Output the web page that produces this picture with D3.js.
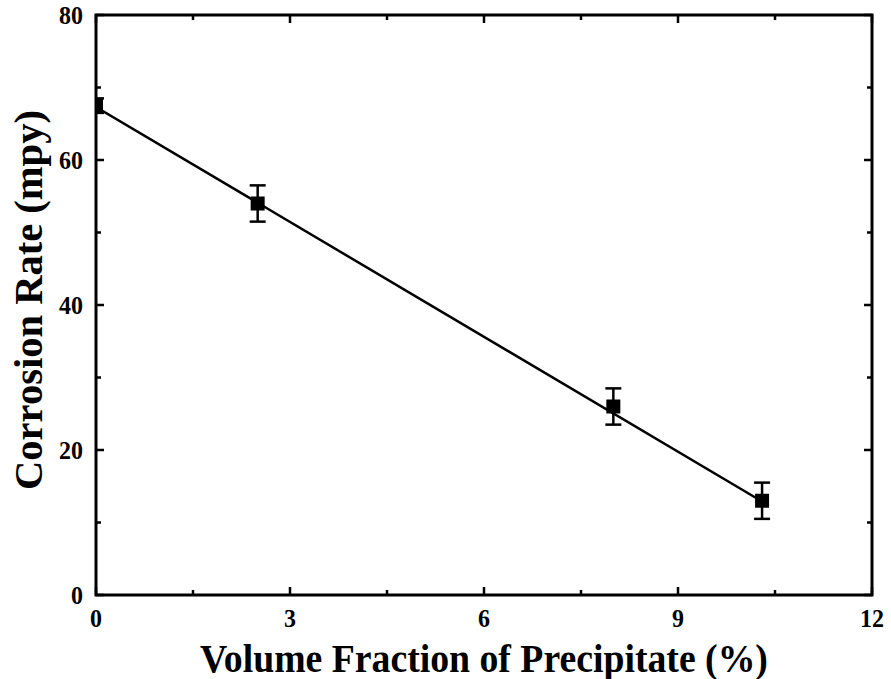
<!DOCTYPE html>
<html><head><meta charset="utf-8">
<script src="https://cdn.jsdelivr.net/npm/d3@7"></script>
<style>body{margin:0;background:#fff}svg{display:block}text{font-family:"Liberation Serif","Times New Roman",serif;font-weight:bold;fill:#000}</style>
</head><body><svg id="c" width="891" height="679"></svg>
<script>
const xVals=[0,2.5,8,10.3];
const yVals=[67.5,54,26,13];
const yErr=[1,2.5,2.5,2.5];
const fitX=[0,10.3];
const fitY=[67.3,12.9];
const xTicks=[0,3,6,9,12];
const yTicks=[0,20,40,60,80];
const xMinor=[1.5,4.5,7.5,10.5];
const yMinor=[10,30,50,70];
const xTitle="Volume Fraction of Precipitate (%)";
const yTitle="Corrosion Rate (mpy)";

const svg=d3.select("#c");
const L=96,R=872,T=15,B=595;
const x=d3.scaleLinear().domain([0,12]).range([L,R]);
const y=d3.scaleLinear().domain([0,80]).range([B,T]);
svg.append("defs").append("clipPath").attr("id","pc").append("rect").attr("x",L).attr("y",T).attr("width",R-L).attr("height",B-T);
const g=svg.append("g");
function ticks(vals,len,orient){
  vals.forEach(v=>{
    if(orient==="x"){
      g.append("line").attr("x1",x(v)).attr("x2",x(v)).attr("y1",B).attr("y2",B-len).attr("stroke","#000").attr("stroke-width",2.5);
      g.append("line").attr("x1",x(v)).attr("x2",x(v)).attr("y1",T).attr("y2",T+len).attr("stroke","#000").attr("stroke-width",2.5);
    } else {
      g.append("line").attr("y1",y(v)).attr("y2",y(v)).attr("x1",L).attr("x2",L+len).attr("stroke","#000").attr("stroke-width",2.5);
      g.append("line").attr("y1",y(v)).attr("y2",y(v)).attr("x1",R).attr("x2",R-len).attr("stroke","#000").attr("stroke-width",2.5);
    }
  });
}
ticks(xTicks,8,"x");ticks(xMinor,5,"x");
ticks(yTicks,8,"y");ticks(yMinor,5,"y");
// tick labels
xTicks.forEach(v=>g.append("text").attr("transform",`translate(${x(v)},${B+32}) scale(1,1.08)`).attr("text-anchor","middle").attr("font-size",24).text(v));
yTicks.forEach(v=>g.append("text").attr("transform",`translate(${L-13},${y(v)+8.5}) scale(1,1.08)`).attr("text-anchor","end").attr("font-size",24).text(v));
// titles
const xt=g.append("text").attr("text-anchor","middle").attr("font-size",40).text(xTitle);
const wx=xt.node().getComputedTextLength();
xt.attr("transform",`translate(484,672) scale(${568/wx},1.0)`);
const yt=g.append("text").attr("text-anchor","middle").attr("font-size",40).text(yTitle);
const wy=yt.node().getComputedTextLength();
yt.attr("transform",`translate(42,300) rotate(-90) scale(${380/wy},1)`);
// data layer clipped to plot area
const d=g.append("g").attr("clip-path","url(#pc)");
d.append("line").attr("x1",x(fitX[0])).attr("y1",y(fitY[0])).attr("x2",x(fitX[1])).attr("y2",y(fitY[1])).attr("stroke","#000").attr("stroke-width",2.5);
const pts=xVals.map((v,i)=>({x:v,y:yVals[i],e:yErr[i]}));
pts.forEach(p=>{
  const cx=x(p.x);
  d.append("line").attr("x1",cx).attr("x2",cx).attr("y1",y(p.y+p.e)).attr("y2",y(p.y-p.e)).attr("stroke","#000").attr("stroke-width",2.5);
  [p.y+p.e,p.y-p.e].forEach(v=>d.append("line").attr("x1",cx-8).attr("x2",cx+8).attr("y1",y(v)).attr("y2",y(v)).attr("stroke","#000").attr("stroke-width",2.5));
  d.append("rect").attr("x",cx-7).attr("y",y(p.y)-7).attr("width",14).attr("height",14).attr("fill","#000");
});
g.append("rect").attr("x",L).attr("y",T).attr("width",R-L).attr("height",B-T).attr("fill","none").attr("stroke","#000").attr("stroke-width",3);
</script></body></html>
